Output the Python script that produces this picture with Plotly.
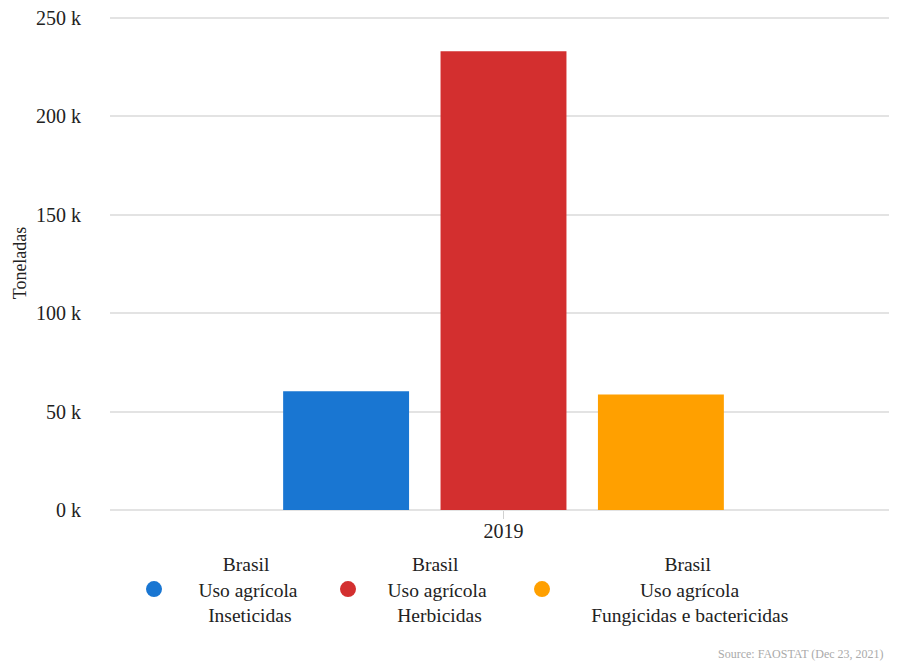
import plotly.graph_objects as go

# ---- data ----
years = ["2019"]
series_names = [
    ["Brasil", "Uso agrícola", "Inseticidas"],
    ["Brasil", "Uso agrícola", "Herbicidas"],
    ["Brasil", "Uso agrícola", "Fungicidas e bactericidas"],
]
insecticidas = [60400]
herbicidas = [233100]
fungicidas = [58700]
series_values = [insecticidas, herbicidas, fungicidas]
colors = ["#1976D2", "#D32F2F", "#FFA000"]
y_tickvals = [0, 50000, 100000, 150000, 200000, 250000]
y_ticktext = ["0 k", "50 k", "100 k", "150 k", "200 k", "250 k"]

FONT = "Liberation Serif"
NB = "\u00a0"

# approximate Times widths (per 1000 em) to center legend lines
W = {'B': 667, 'r': 333, 'a': 444, 's': 389, 'i': 278, 'l': 278, 'U': 722, 'o': 500, ' ': 250,
     'g': 500, 'í': 278, 'c': 444, 'I': 333, 'n': 500, 'e': 444, 't': 278, 'd': 500, 'H': 722,
     'b': 500, 'F': 556, 'u': 500}


def tw(s):
    return sum(W.get(ch, 500) for ch in s)


def centered(lines, lead=5):
    wmax = max(tw(l) for l in lines)
    out = []
    for l in lines:
        pad = int(round((wmax - tw(l)) / 2 / 250))
        out.append(NB * (lead + pad) + l)
    return "<br>".join(out)


leads = [5, 4, 6]
legend_widths = [149, 149, 290]

fig = go.Figure()
for vals, col in zip(series_values, colors):
    fig.add_trace(go.Bar(x=years, y=vals, marker=dict(color=col, line=dict(width=0)),
                         showlegend=False))
for lines, col, ld, lw in zip(series_names, colors, leads, legend_widths):
    fig.add_trace(go.Scatter(x=[None], y=[None], mode="markers",
                             marker=dict(symbol="circle", size=18, color=col),
                             name=centered(lines, ld), showlegend=True, legendwidth=lw))

# the page body adds an 8px offset, so the figure is drawn smaller
fig.update_layout(
    width=889, height=654,
    margin=dict(l=102, r=0, t=7.5, b=152),
    paper_bgcolor="white", plot_bgcolor="white",
    font=dict(family=FONT, color="#222", size=20),
    barmode="group", bargap=0.4, bargroupgap=0.2,
    legend=dict(orientation="h", x=0.0305, xanchor="left", y=-0.07, yanchor="top",
                font=dict(family=FONT, size=19.5, color="#222"),
                entrywidthmode="pixels", itemsizing="trace"),
    annotations=[dict(text="Source: FAOSTAT (Dec 23, 2021)", xref="paper", yref="paper",
                      x=0.986, y=-0.291, xanchor="right", yanchor="middle", showarrow=False,
                      font=dict(family=FONT, size=12, color="#aaaaaa"))],
)
fig.update_xaxes(type="category", showgrid=False, showline=False, zeroline=False,
                 automargin=False,
                 ticks="outside", ticklen=8, tickcolor="#d0d0d0", tickwidth=1,
                 ticklabelstandoff=-5,
                 tickfont=dict(family=FONT, size=20, color="#222"))
fig.update_yaxes(range=[0, 251000], tickvals=y_tickvals, ticktext=y_ticktext,
                 automargin=False, ticklabeloverflow="allow",
                 showgrid=True, gridcolor="#e3e3e3", gridwidth=1.5,
                 zeroline=True, zerolinecolor="#e3e3e3", zerolinewidth=2,
                 showline=False, ticks="", ticklabelstandoff=28,
                 tickfont=dict(family=FONT, size=20, color="#222"),
                 title=dict(text="Toneladas", standoff=4,
                            font=dict(family=FONT, size=18, color="#222")))

fig.write_html("out.html")
